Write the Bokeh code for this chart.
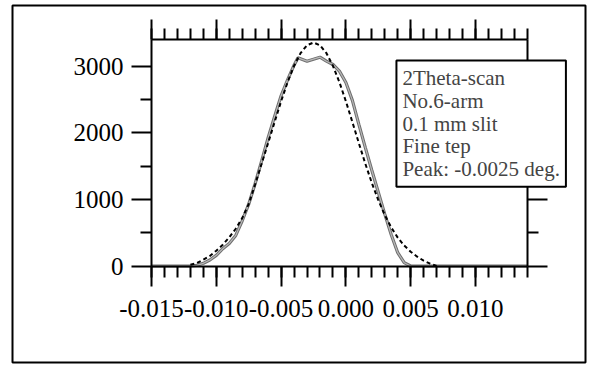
from bokeh.plotting import figure
from bokeh.models import Range1d, LinearAxis, FixedTicker, Label
from bokeh.embed import file_html
from bokeh.resources import INLINE

# measured 2theta scan (solid grey)
meas_x = [-0.0150, -0.0140, -0.0130, -0.0120, -0.0115, -0.0110, -0.0105, -0.0100,
          -0.0095, -0.0090, -0.0085, -0.0080, -0.0075, -0.0070, -0.0065, -0.0060,
          -0.0055, -0.0050, -0.0045, -0.0040, -0.0037, -0.0030, -0.0020, -0.0015,
          -0.0010, -0.0005, 0.0000, 0.0005, 0.0010, 0.0015, 0.0020, 0.0025,
          0.0030, 0.0035, 0.0040, 0.0045, 0.0050, 0.0060, 0.0080, 0.0100,
          0.0120, 0.0140]
meas_y = [0, 0, 0, 0, 10, 40, 90, 160,
          260, 340, 460, 680, 930, 1240, 1580, 1930,
          2250, 2560, 2800, 3020, 3130, 3080, 3140, 3080,
          3030, 2930, 2760, 2490, 2130, 1780, 1440, 1110,
          780, 470, 200, 50, 0, 0, 0, 0,
          0, 0]

# fitted profile (dashed black)
fit_x = [-0.0120, -0.0115, -0.0110, -0.0105, -0.0100, -0.0095, -0.0090, -0.0085,
         -0.0080, -0.0075, -0.0070, -0.0065, -0.0060, -0.0055, -0.0050, -0.0045,
         -0.0040, -0.0035, -0.0030, -0.0025, -0.0020, -0.0015, -0.0010, -0.0005,
         0.0000, 0.0005, 0.0010, 0.0015, 0.0020, 0.0025, 0.0030, 0.0035,
         0.0040, 0.0045, 0.0050, 0.0055, 0.0060, 0.0065, 0.0070]
fit_y = [20, 45, 95, 150, 230, 320, 430, 560,
         720, 930, 1230, 1540, 1850, 2165, 2476, 2764,
         3010, 3200, 3319, 3360, 3319, 3200, 3010, 2764,
         2476, 2165, 1847, 1538, 1250, 991, 767, 579,
         427, 307, 215, 140, 80, 35, 0]

x_major = [-0.015, -0.010, -0.005, 0.000, 0.005, 0.010]
x_minor = [round(-0.015 + 0.001 * i, 3) for i in range(30)]
x_labels = ["-0.015", "-0.010", "-0.005", "0.000", "0.005", "0.010"]
x_axis_span = (-0.015, 0.014)
y_major = [0, 1000, 2000, 3000]
y_minor = [500, 1500, 2500]
y_axis_span = (0, 3400)

legend_text = "2Theta-scan\nNo.6-arm\n0.1 mm slit\nFine tep\nPeak: -0.0025 deg."

FONT = "Liberation Serif"

# the frame is the outer box; the axes are placed inside it at fixed locations
p = figure(width=587, height=364, output_backend="svg", toolbar_location=None,
           x_range=Range1d(-0.025725, 0.018488), y_range=Range1d(-1451, 3917),
           x_axis_location=None, y_axis_location=None,
           min_border_left=12, min_border_right=2, min_border_top=5,
           min_border_bottom=2)
p.outline_line_color = "black"
p.outline_line_width = 2
p.xgrid.visible = False
p.ygrid.visible = False
p.background_fill_color = "white"
p.border_fill_color = "white"

xt = FixedTicker(ticks=x_major, minor_ticks=x_minor)
yt = FixedTicker(ticks=y_major, minor_ticks=y_minor)


def style(ax, labels, standoff):
    ax.axis_line_width = 2
    ax.major_tick_line_width = 2
    ax.minor_tick_line_width = 2
    ax.major_tick_in = 0
    ax.major_tick_out = 20
    ax.minor_tick_in = 0
    ax.minor_tick_out = 11
    ax.major_label_text_font = FONT
    ax.major_label_text_font_size = "25px"
    ax.major_label_text_color = "black"
    ax.major_label_standoff = standoff
    if not labels:
        ax.major_label_text_font_size = "0px"
        ax.major_label_standoff = 0


bottom = LinearAxis(ticker=xt, fixed_location=y_axis_span[0], bounds=x_axis_span,
                    major_label_overrides={v: s for v, s in zip(x_major, x_labels)})
style(bottom, True, 14)
p.add_layout(bottom, "below")

top = LinearAxis(ticker=xt, fixed_location=y_axis_span[1], bounds=x_axis_span)
style(top, False, 0)
p.add_layout(top, "above")

left = LinearAxis(ticker=yt, fixed_location=x_axis_span[0], bounds=y_axis_span)
style(left, True, 8)
p.add_layout(left, "left")

right = LinearAxis(ticker=yt, fixed_location=x_axis_span[1], bounds=y_axis_span)
style(right, False, 0)
p.add_layout(right, "right")

p.line(meas_x, meas_y, line_color="#6e6e6e", line_width=3.2)
p.line(meas_x, meas_y, line_color="#b8b8b8", line_width=1.2)
p.line(fit_x, fit_y, line_color="black", line_width=2, line_dash="4 3")

lab = Label(x=0.0039, y=3090, text=legend_text, text_font=FONT,
            text_font_size="21px", text_align="left", text_baseline="top",
            text_line_height=0.94, padding=6,
            background_fill_color="white", border_line_color="black",
            border_line_width=2)
p.add_layout(lab)

open("out.html", "w").write(file_html(p, INLINE))
